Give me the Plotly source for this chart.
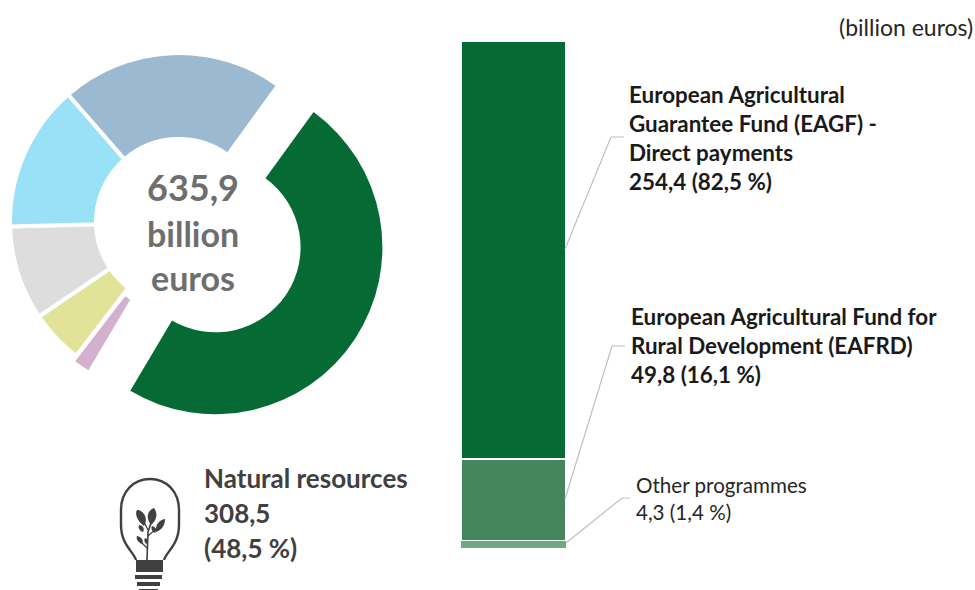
import plotly.graph_objects as go

W, H = 975, 590

# ---- data ----
slice_names = ["Natural resources", "Other A", "Other B", "Other C", "Other D", "Other E"]
slice_values = [308.5, 12.1, 32.7, 57.4, 89.2, 136.0]
slice_colors = ["#066A35", "#D3B1CE", "#E1E498", "#DDDDDD", "#99E1F6", "#9BBAD1"]

bar_names = ["EAGF", "EAFRD", "Other programmes"]
bar_values = [254.4, 49.8, 4.3]
bar_colors = ["#066A35", "#44875C", "#6FA882"]

CLEAR = "rgba(0,0,0,0)"
FONT = "Lato"
TOTAL = sum(bar_values)


def pie_domain(cx, cy, half):
    return dict(x=[(cx - half) / W, (cx + half) / W],
                y=[1 - (cy + half) / H, 1 - (cy - half) / H])


fig = go.Figure()

# the five slices that stay round the centre
fig.add_trace(go.Pie(
    labels=slice_names, values=slice_values, sort=False, direction="clockwise",
    rotation=36, hole=0.491, textinfo="none", hoverinfo="skip", showlegend=False,
    pull=[0, 0.04, 0, 0, 0, 0],
    marker=dict(colors=[CLEAR] + slice_colors[1:],
                line=dict(color="white", width=[0, 4, 4, 4, 4, 4])),
    domain=pie_domain(179, 222, 169 * 1.04),
))
# the exploded slice
fig.add_trace(go.Pie(
    labels=slice_names, values=slice_values, sort=False, direction="clockwise",
    rotation=36, hole=0.51, textinfo="none", hoverinfo="skip", showlegend=False,
    marker=dict(colors=[slice_colors[0]] + [CLEAR] * 5, line=dict(width=0)),
    domain=pie_domain(215.4, 247.2, 167),
))

# stacked bar
for i, (n, v, c) in enumerate(zip(bar_names, bar_values, bar_colors)):
    fig.add_trace(go.Bar(
        x=[0], y=[v], name=n, showlegend=False, hoverinfo="skip",
        marker=dict(color=c, line=dict(color="white", width=2.5 if i < 2 else 0)),
    ))

layout_shapes = []
GREY = "#BFBFBF"
ICON = "#404040"


def px_path(path, **kw):
    layout_shapes.append(dict(type="path", path=path, xref="x2", yref="y2", **kw))


# leader lines
px_path("M 565,249 L 611,137 L 624,137", line=dict(color=GREY, width=1.2))
px_path("M 565,499 L 612,346 L 625,346", line=dict(color=GREY, width=1.2))
px_path("M 566,543 L 622,498 L 630,498", line=dict(color=GREY, width=1.2))

# light bulb icon
px_path("M 136,560 C 134,552 121,545 121,525 L 121,510 C 121,491 134,479 150,479 "
        "C 166,479 179,491 179,510 L 179,525 C 179,545 166,552 164,560",
        line=dict(color=ICON, width=2.4))
px_path("M 136,560 L 163,560 L 163,572 L 136,572 Z", fillcolor=ICON, line=dict(width=0))
px_path("M 135,575 L 162,575 L 162,579 L 135,579 Z", fillcolor=ICON, line=dict(width=0))
px_path("M 137,582 L 160,582 L 160,586 L 137,586 Z", fillcolor=ICON, line=dict(width=0))
px_path("M 139,589 L 158,589 L 158,590 L 139,590 Z", fillcolor=ICON, line=dict(width=0))
# stem and branches
px_path("M 147,560 L 148,532 L 151,523", line=dict(color=ICON, width=1.6))
px_path("M 148,536 L 157,528", line=dict(color=ICON, width=1.2))
px_path("M 148,530 L 143,520", line=dict(color=ICON, width=1.2))
px_path("M 147,548 L 140,541", line=dict(color=ICON, width=1.2))
# leaves
px_path("M 144,526 C 136,520 135,513 137,510 C 143,510 149,518 144,526 Z",
        fillcolor=ICON, line=dict(width=0))
px_path("M 151,525 C 145,517 148,510 154,508 C 158,513 157,520 151,525 Z",
        fillcolor=ICON, line=dict(width=0))
px_path("M 156,532 C 155,525 159,520 165,519 C 165,525 162,530 156,532 Z",
        fillcolor=ICON, line=dict(width=0))
px_path("M 143,532 C 139,531 138,527 139,525 C 143,525 145,529 143,532 Z",
        fillcolor=ICON, line=dict(width=0))
px_path("M 155,533 C 151,531 151,527 152,526 C 156,527 157,530 155,533 Z",
        fillcolor=ICON, line=dict(width=0))
px_path("M 142,544 C 137,542 136,538 137,536 C 142,537 144,541 142,544 Z",
        fillcolor=ICON, line=dict(width=0))
px_path("M 146,544 C 144,542 144,539 145,538 C 148,539 149,542 146,544 Z",
        fillcolor=ICON, line=dict(width=0))


def note(x, y, text, size, color, xanchor="left", yanchor="top", align="left"):
    return dict(x=x, y=y, xref="x2", yref="y2", text=text, showarrow=False,
                xanchor=xanchor, yanchor=yanchor, align=align,
                font=dict(family=FONT, size=size, color=color),
                borderpad=0, borderwidth=0)


annotations = [
    note(973, 27, "(billion euros)", 23, "#262626", xanchor="right", yanchor="middle", align="right"),
    note(193, 187, "<b>635,9</b>", 36, "#6E6E6E", xanchor="center", yanchor="middle"),
    note(193, 233, "<b>billion</b>", 34, "#6E6E6E", xanchor="center", yanchor="middle"),
    note(193, 277, "<b>euros</b>", 34, "#6E6E6E", xanchor="center", yanchor="middle"),
    note(629, 81, "<b>European Agricultural<br>Guarantee Fund (EAGF) -<br>Direct payments<br>254,4 (82,5 %)</b>",
         22.4, "#1A1A1A"),
    note(631, 303, "<b>European Agricultural Fund for<br>Rural Development (EAFRD)<br>49,8 (16,1 %)</b>",
         22.4, "#1A1A1A"),
    note(636, 473, "Other programmes<br>4,3 (1,4 %)", 20.6, "#262626"),
    note(204, 478, "<b>Natural resources</b>", 26, "#404040", yanchor="middle"),
    note(204, 513, "<b>308,5</b>", 26, "#404040", yanchor="middle"),
    note(204, 548, "<b>(48,5 %)</b>", 26, "#404040", yanchor="middle"),
]

fig.update_layout(
    width=W, height=H, margin=dict(l=0, r=0, t=0, b=0),
    paper_bgcolor="white", plot_bgcolor="rgba(0,0,0,0)", showlegend=False,
    barmode="stack", bargap=0,
    xaxis=dict(domain=[461 / W, 566 / W], range=[-0.5, 0.5], visible=False, fixedrange=True),
    yaxis=dict(domain=[1 - 548 / H, 1 - 41 / H], range=[TOTAL, 0], visible=False, fixedrange=True),
    xaxis2=dict(domain=[0, 1], range=[0, W], visible=False, anchor="y2", fixedrange=True),
    yaxis2=dict(domain=[0, 1], range=[H, 0], visible=False, anchor="x2", fixedrange=True),
    shapes=layout_shapes,
    annotations=annotations,
)

fig.write_html("out.html", config=dict(displayModeBar=False),
               post_script="document.body.style.margin='0';document.documentElement.style.overflow='hidden';")
